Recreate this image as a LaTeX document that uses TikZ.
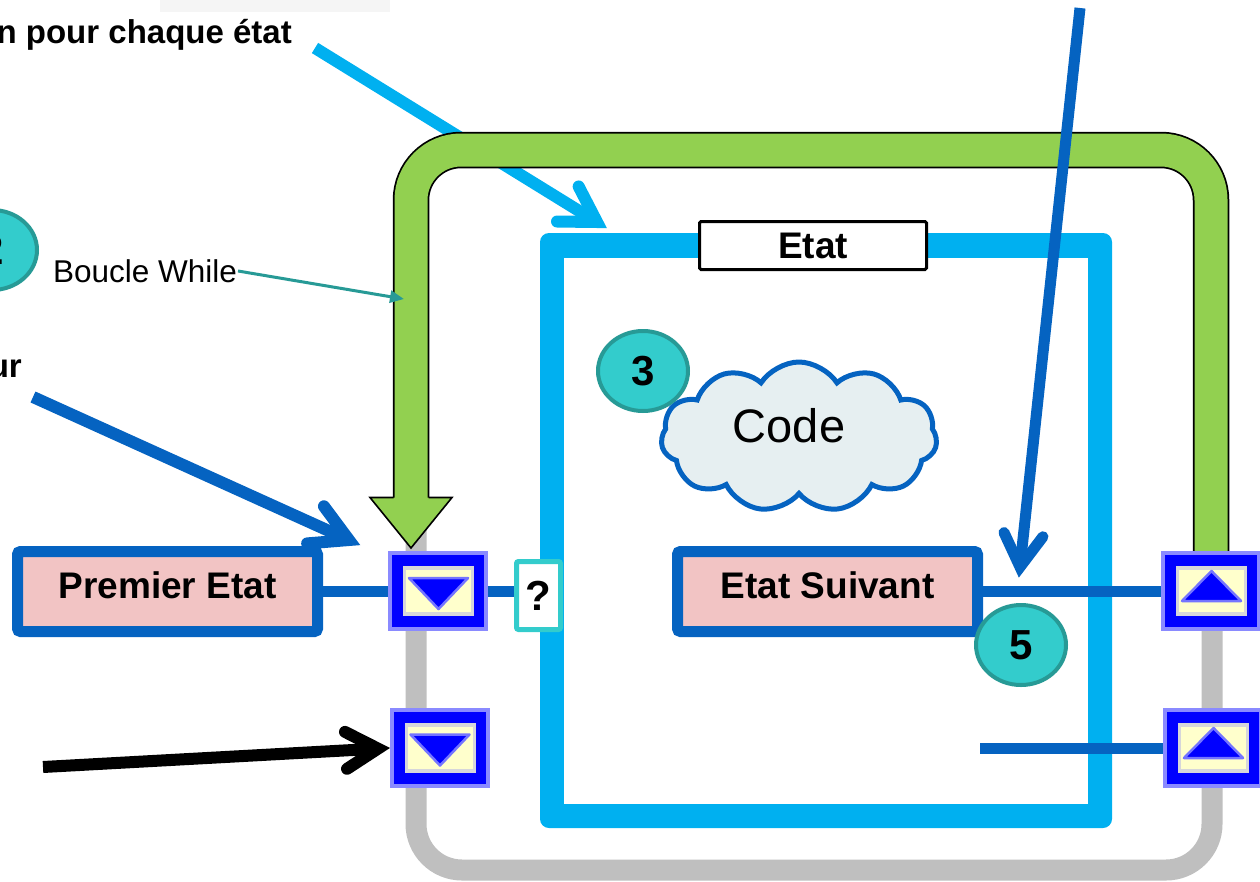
\documentclass[tikz,border=0pt]{standalone}
\usepackage{fontspec}
\setmainfont{Liberation Sans}
\usetikzlibrary{calc,shapes.symbols,shapes.geometric,arrows.meta}

\definecolor{caseblue}{HTML}{00B0F0}
\definecolor{wireblue}{HTML}{0563C1}
\definecolor{loopgreen}{HTML}{92D050}
\definecolor{loopgray}{HTML}{BFBFBF}
\definecolor{tealfill}{HTML}{33CCCC}
\definecolor{tealedge}{HTML}{279A96}
\definecolor{pinkfill}{HTML}{F2C4C4}
\definecolor{cloudfill}{HTML}{E6EFF1}
\definecolor{srblue}{HTML}{0000FF}
\definecolor{srrim}{HTML}{8A8AFF}
\definecolor{srtri}{HTML}{7474FF}
\definecolor{sryellow}{HTML}{FFFFCC}
\definecolor{srgray}{HTML}{D6D6DA}

\newcommand\setfs[1]{\fontsize{#1}{#1}\selectfont}

\begin{document}
\begin{tikzpicture}[x=1pt,y=-1pt,
  statebox/.style={draw=wireblue, fill=pinkfill, line width=11, rounded corners=3,
    minimum width=300, minimum height=80, inner sep=0, text height=26, text depth=13,
    font=\bfseries\setfs{37}},
  srbase/.style={rectangle, inner sep=0, minimum width=96, minimum height=76,
    fill=srblue, draw=srrim, line width=4},
  srdown/.style={srbase, path picture={
    \begin{scope}[shift={(path picture bounding box.center)}]
      \fill[srgray] (-35,-25) rectangle (36,25);
      \fill[sryellow] (-32,-21) rectangle (33,21);
      \filldraw[fill=srblue, draw=srtri, line width=2.5, line join=round]
        (-29,-13) -- (30,-13) -- (0.5,18) -- cycle;
    \end{scope}}},
  srup/.style={srbase, path picture={
    \begin{scope}[shift={(path picture bounding box.center)}]
      \fill[srgray] (-35,-25) rectangle (36,25);
      \fill[sryellow] (-32,-21) rectangle (33,21);
      \filldraw[fill=srblue, draw=srtri, line width=2.5, line join=round]
        (-29,10) -- (30,10) -- (0.5,-20) -- cycle;
    \end{scope}}},
  wire/.style={draw=wireblue, line width=11},
  badge/.style={ellipse, draw=tealedge, fill=tealfill, line width=4, inner sep=0,
    minimum width=90, minimum height=80, font=\bfseries\setfs{42}},
  pointer/.style={line width=#1, line cap=butt},
  barb/.style={line width=#1, line cap=round, line join=miter},
]
\useasboundingbox (0,0) rectangle (1260,881);
\clip (0,0) rectangle (1260,881);

% faint band at the top edge
\fill[black!4] (160,0) rectangle (390,12);

% light blue pointer toward the case structure (passes under the loop band)
\coordinate (aS) at (315,48);
\coordinate (aT) at (597,222);
\draw[caseblue, pointer=12] (aS) -- (aT);
\draw[caseblue, barb=12] ($(aT)!40pt!31:(aS)$) -- (aT) -- ($(aT)!40pt!-31:(aS)$);

% while loop frame
\draw[loopgray, line width=21, rounded corners=46]
  (416,505) -- (416,870) -- (1212,870) -- (1212,560);

% feedback band of the shift register
\draw[black, line width=36.5, rounded corners=50]
  (1211,560) -- (1211,150) -- (411,150) -- (411,498);
\draw[loopgreen, line width=33, rounded corners=50]
  (1211,560) -- (1211,150) -- (411,150) -- (411,498.5);
\filldraw[fill=loopgreen, draw=black, line width=1.6, line join=miter]
  (393.5,497.5) -- (370,497.5) -- (411,548) -- (452,497.5) -- (428.5,497.5);

% case structure
\node[fill=caseblue, rounded corners=9, minimum width=572, minimum height=595,
      inner sep=0] (case) at (826,530.5) {};
\fill[white] ($(case.north west)+(24,25)$) rectangle ($(case.south east)+(-24,-24)$);

% label of the while loop
\node[anchor=base west, inner sep=0, font=\setfs{31.5}] (boucle) at (53,282) {Boucle While};
\coordinate (eS) at (238,271);
\coordinate (eT) at (404,299);
\draw[tealedge, line width=3, -{Triangle[length=14pt,width=12pt]}] (eS) -- (eT);

% texts at the left edge
\node[anchor=base east, inner sep=0, font=\bfseries\setfs{33}] (toptext) at (292,43) {n pour chaque état};
\node[anchor=base east, inner sep=0, font=\bfseries\setfs{33}] (urtext) at (22,377) {ur};
\node[badge] (b2) at (-8,250) {2};

% selector label
\node[draw=black, fill=white, line width=3, rounded corners=1.5, minimum width=227,
      minimum height=48, inner sep=0, font=\bfseries\setfs{37}] (etat) at (813,245.5) {Etat};

% code cloud
\node[cloud, cloud puffs=11, cloud puff arc=115, cloud ignores aspect, draw=wireblue,
      fill=cloudfill, line width=5, minimum width=276, minimum height=150, inner sep=0]
      (cloud) at (799,437) {};
\node[inner sep=0, font=\setfs{47}] (code) at (789,426) {Code};
\node[badge] (b3) at (643,371) {3};

% state constants
\node[statebox] (pe) at (167.5,591.5) {Premier Etat};
\node[statebox] (es) at (827.5,591.5) {Etat Suivant};

% shift register terminals
\node[srdown] (t1) at (438,591) {};
\node[srdown] (t2) at (439.5,747.5) {};
\node[srup] (t3) at (1211,591) {};
\node[srup] (t4) at (1213,748) {};

% selector terminal
\node[draw=tealfill, fill=white, line width=5, rounded corners=2, minimum width=44,
      minimum height=68, inner sep=0, font=\bfseries\setfs{42}] (q) at (538.5,595.5) {?};

% wires
\draw[wire] (pe.east) -- (pe.east -| t1.west);
\draw[wire] (t1.east) -- (t1.east -| q.west);
\draw[wire] (es.east) -- (es.east -| t3.west);
\coordinate (w4) at (980,748);
\draw[wire] (w4) -- (t4.west);

\node[badge] (b5) at (1021,645) {5};

% dark blue pointer from the top toward the next state wire
\coordinate (bS) at (1080,8);
\coordinate (bT) at (1020,567);
\draw[wireblue, pointer=11] (bS) -- (bT);
\draw[wireblue, barb=11] ($(bT)!38pt!31:(bS)$) -- (bT) -- ($(bT)!38pt!-31:(bS)$);

% dark blue pointer toward the first terminal
\coordinate (cS) at (33,397);
\coordinate (cT) at (349,540);
\draw[wireblue, pointer=12] (cS) -- (cT);
\draw[wireblue, barb=12] ($(cT)!42pt!29:(cS)$) -- (cT) -- ($(cT)!42pt!-29:(cS)$);

% black pointer toward the second terminal
\coordinate (dS) at (43,767);
\coordinate (dT) at (378,748.6);
\draw[black, pointer=12] (dS) -- (dT);
\draw[black, barb=12] ($(dT)!37pt!30:(dS)$) -- (dT) -- ($(dT)!37pt!-30:(dS)$);
\end{tikzpicture}
\end{document}
